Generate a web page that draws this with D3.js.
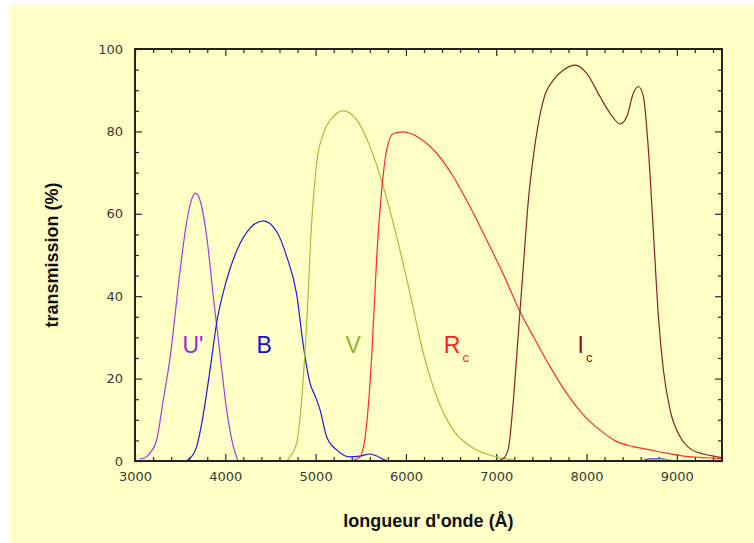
<!DOCTYPE html>
<html>
<head>
<meta charset="utf-8">
<script src="https://cdn.jsdelivr.net/npm/d3@7"></script>
<style>
  html, body { margin: 0; padding: 0; background: #ffffff; }
  svg { display: block; }
</style>
</head>
<body>
<svg id="chart" width="754" height="543"></svg>
<script>
// ---- data (wavelength in Å, transmission in %) ----
const uWave  = [3050, 3110, 3166, 3240, 3313, 3388, 3498, 3572, 3620, 3670, 3720, 3794, 3867, 3941, 4015, 4089, 4140];
const uTrans = [0.5, 0.8, 1.9, 5.1, 14.8, 25, 46, 58, 63, 65, 63.3, 54.5, 40, 26, 12.4, 3.5, 0];

const bWave  = [3560, 3600, 3683, 3738, 3830, 3904, 4015, 4126, 4274, 4421, 4569, 4680, 4790, 4864, 4938, 5000, 5049, 5122, 5233, 5382, 5492, 5603, 5677, 5750, 5806, 5850, 8620, 8700, 8850, 8900];
const bTrans = [0, 0.5, 3.5, 9, 22, 33.5, 44, 51, 56.5, 58.3, 55.7, 49.6, 40.5, 28, 18.9, 15.5, 12.4, 5.9, 2.7, 1.0, 1.2, 1.7, 1.2, 0.4, 0, null, 0, 0.5, 0.5, 0];

const vWave  = [4680, 4716, 4790, 4845, 4901, 4956, 5012, 5086, 5196, 5307, 5455, 5603, 5750, 5898, 6045, 6193, 6341, 6525, 6747, 7005, 7190, 7230, 7260, 8650, 8720, 8900, 8960];
const vTrans = [0, 1, 4.3, 14.8, 33.4, 57.7, 72.3, 79.5, 83.6, 85, 82.8, 76.3, 66.6, 54.4, 40.7, 26.1, 15.6, 7.5, 3.1, 1.0, 0.2, 0, null, 0, 0.4, 0.4, 0];

const rWave  = [5399, 5450, 5492, 5566, 5621, 5677, 5732, 5787, 5861, 5972, 6156, 6341, 6525, 6710, 6895, 7079, 7264, 7411, 7596, 7781, 7965, 8150, 8335, 8519, 8704, 8889, 9073, 9258, 9480, 9500];
const rTrans = [0, 0.5, 1, 9.1, 25.3, 49.6, 65.8, 75.5, 79.5, 79.9, 78.3, 74.7, 69, 61.7, 53.6, 45.3, 36.2, 30.2, 22.9, 16.4, 11.2, 7.5, 4.7, 3.5, 2.7, 1.9, 1.2, 0.9, 0.6, 0.6];

const iWave  = [7000, 7079, 7134, 7190, 7245, 7300, 7356, 7411, 7467, 7522, 7633, 7744, 7873, 8002, 8150, 8261, 8372, 8446, 8519, 8575, 8630, 8685, 8741, 8796, 8851, 8925, 9036, 9147, 9295, 9480, 9500];
const iTrans = [0, 0.6, 3, 14.8, 31, 47.2, 63.3, 73.9, 82, 87.6, 92.5, 94.9, 96.1, 94.1, 88.4, 84.4, 81.8, 83.6, 89.3, 90.9, 88.4, 75.5, 55.3, 35, 22.1, 12.4, 5.9, 3, 1.7, 0.9, 0.8];

const seriesNames = ["U'", "B", "V", "R", "I"];
const xMajorTicks = [3000, 4000, 5000, 6000, 7000, 8000, 9000];
const yMajorTicks = [0, 20, 40, 60, 80, 100];
const xTitle = "longueur d'onde (Å)";
const yTitle = "transmission (%)";

// ---- layout ----
const svg = d3.select("#chart");
const W = 754, H = 543;
const plot = { left: 135, right: 722, top: 49, bottom: 461 };

svg.append("rect").attr("x", 10).attr("y", 5).attr("width", W - 10).attr("height", H - 5)
  .attr("fill", "#ffffc6");

const x = d3.scaleLinear().domain([3000, 9500]).range([plot.left, plot.right]);
const y = d3.scaleLinear().domain([0, 100]).range([plot.bottom, plot.top]);

const xMinor = d3.range(3000, 9500, 200).filter(v => v % 1000 !== 0);
const yMinor = d3.range(0, 100, 5).filter(v => v % 20 !== 0);

const tickColor = "#2a2a2a";
function styleAxis(g) {
  g.select(".domain").remove();
  g.selectAll("line").attr("stroke", tickColor).attr("stroke-width", 1.2);
  g.selectAll("text").attr("fill", "#3a3a3a").attr("font-family", "DejaVu Sans, sans-serif").attr("font-size", 13);
}

// bottom axis
svg.append("g").attr("transform", `translate(0,${plot.bottom})`)
  .call(d3.axisBottom(x).tickValues(xMajorTicks).tickSize(-7).tickPadding(11).tickFormat(d3.format("d")))
  .call(styleAxis);
svg.append("g").attr("transform", `translate(0,${plot.bottom})`)
  .call(d3.axisBottom(x).tickValues(xMinor).tickSize(-4).tickFormat(""))
  .call(styleAxis);
// top axis
svg.append("g").attr("transform", `translate(0,${plot.top})`)
  .call(d3.axisTop(x).tickValues(xMajorTicks).tickSize(-7).tickFormat(""))
  .call(styleAxis);
svg.append("g").attr("transform", `translate(0,${plot.top})`)
  .call(d3.axisTop(x).tickValues(xMinor).tickSize(-4).tickFormat(""))
  .call(styleAxis);
// left axis
svg.append("g").attr("transform", `translate(${plot.left},0)`)
  .call(d3.axisLeft(y).tickValues(yMajorTicks).tickSize(-7).tickPadding(12).tickFormat(d3.format("d")))
  .call(styleAxis);
svg.append("g").attr("transform", `translate(${plot.left},0)`)
  .call(d3.axisLeft(y).tickValues(yMinor).tickSize(-4).tickFormat(""))
  .call(styleAxis);
// right axis
svg.append("g").attr("transform", `translate(${plot.right},0)`)
  .call(d3.axisRight(y).tickValues(yMajorTicks).tickSize(-7).tickFormat(""))
  .call(styleAxis);
svg.append("g").attr("transform", `translate(${plot.right},0)`)
  .call(d3.axisRight(y).tickValues(yMinor).tickSize(-4).tickFormat(""))
  .call(styleAxis);

// clip
svg.append("clipPath").attr("id", "clip").append("rect")
  .attr("x", plot.left).attr("y", plot.top)
  .attr("width", plot.right - plot.left).attr("height", plot.bottom - plot.top);

const line = d3.line()
  .defined(d => d[1] !== null)
  .x(d => x(d[0])).y(d => y(d[1]))
  .curve(d3.curveMonotoneX);

const series = [
  { name: seriesNames[0], wave: uWave, trans: uTrans, color: "#a83adf" },
  { name: seriesNames[1], wave: bWave, trans: bTrans, color: "#1a1ae6" },
  { name: seriesNames[2], wave: vWave, trans: vTrans, color: "#9cc43a" },
  { name: seriesNames[3], wave: rWave, trans: rTrans, color: "#ff2a2a" },
  { name: seriesNames[4], wave: iWave, trans: iTrans, color: "#8b2222" }
];

const lines = svg.append("g").attr("clip-path", "url(#clip)");
series.forEach(s => {
  const pts = s.wave.map((w, i) => [w, s.trans[i]]);
  lines.append("path").datum(pts)
    .attr("fill", "none").attr("stroke", s.color).attr("stroke-width", 1.2)
    .attr("d", line);
});

// frame
svg.append("rect").attr("x", plot.left).attr("y", plot.top)
  .attr("width", plot.right - plot.left).attr("height", plot.bottom - plot.top)
  .attr("fill", "none").attr("stroke", "#222").attr("stroke-width", 2);

// series labels
const lab = svg.append("g").attr("font-family", "Liberation Sans, Arial, sans-serif");
function addLabel(txt, sub, xv, color) {
  const t = lab.append("text").attr("x", x(xv)).attr("y", y(26.2))
    .attr("fill", color).attr("font-size", 23).text(txt);
  if (sub) {
    t.append("tspan").attr("font-size", 13).attr("dx", 2).attr("dy", 9).text(sub);
  }
}
addLabel("U'", null, 3525, "#9a28d8");
addLabel("B", null, 4345, "#1010dd");
addLabel("V", null, 5330, "#90b828");
addLabel("R", "c", 6420, "#ff1a1a");
addLabel("I", "c", 7900, "#8b0f0f");

// axis titles
svg.append("text").attr("x", (plot.left + plot.right) / 2).attr("y", 527)
  .attr("text-anchor", "middle").attr("font-family", "Liberation Sans, Arial, sans-serif")
  .attr("font-weight", "bold").attr("font-size", 18).attr("fill", "#111").text(xTitle);
svg.append("text").attr("transform", "translate(58,255) rotate(-90)")
  .attr("text-anchor", "middle").attr("font-family", "Liberation Sans, Arial, sans-serif")
  .attr("font-weight", "bold").attr("font-size", 18).attr("fill", "#111").text(yTitle);
</script>
</body>
</html>
